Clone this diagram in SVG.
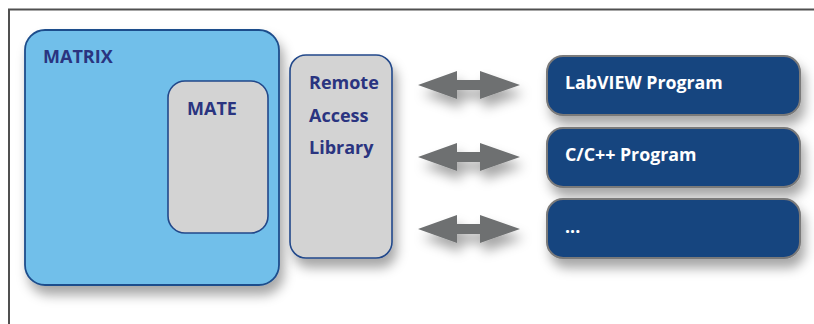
<svg xmlns="http://www.w3.org/2000/svg" width="814" height="324" viewBox="0 0 814 324">
<style>
.lbl{font-family:"Open Sans","Noto Sans","Liberation Sans",sans-serif;font-weight:bold;font-size:18px;fill:#2A3480}
.wl{font-family:"Open Sans","Noto Sans","Liberation Sans",sans-serif;font-weight:bold;font-size:17.8px;fill:#FFFFFF}
.grey{fill:#D3D3D3;stroke:#22488A;stroke-width:1.6}
.prog{fill:#19447F;stroke:#7A7A7A;stroke-width:2}
.arr{fill:#6E7071}
</style>
<defs>
<filter id="sh" x="-20%" y="-20%" width="150%" height="160%">
<feDropShadow dx="4" dy="9" stdDeviation="6" flood-color="#000" flood-opacity="0.35"/>
</filter>
</defs>
<rect x="0" y="0" width="814" height="324" fill="#FFFFFF"/>
<path d="M9,324 V9.5 H814" fill="none" stroke="#505050" stroke-width="2"/>
<g id="matrix">
<rect x="25" y="30" width="254" height="255" rx="20" fill="#71BFEA" stroke="#1F4E8C" stroke-width="1.8" filter="url(#sh)"/>
<text class="lbl" x="43" y="63">MATRIX</text>
</g>
<g id="mate">
<rect x="168" y="81" width="100" height="152" rx="17" class="grey"/>
<text class="lbl" x="187" y="115">MATE</text>
</g>
<g id="ral">
<rect x="290" y="55" width="102" height="203" rx="16" class="grey" filter="url(#sh)"/>
<text class="lbl" x="309" y="89">Remote</text>
<text class="lbl" x="309" y="122">Access</text>
<text class="lbl" x="309" y="154">Library</text>
</g>
<g id="connectors" class="arr" filter="url(#sh)">
<path d="M418,85 L457,71 V80 H480 V71 L520,85 L480,99 V90 H457 V99 Z"/>
<path d="M418,157 L457,143 V152 H480 V143 L520,157 L480,171 V162 H457 V171 Z"/>
<path d="M418,229 L457,215 V224 H480 V215 L520,229 L480,243 V234 H457 V243 Z"/>
</g>
<g id="labview">
<rect x="547" y="56" width="253" height="59" rx="16" class="prog" filter="url(#sh)"/>
<text class="wl" x="565" y="89">LabVIEW Program</text>
</g>
<g id="cpp">
<rect x="547" y="128" width="253" height="59" rx="16" class="prog" filter="url(#sh)"/>
<text class="wl" x="565" y="161">C/C++ Program</text>
</g>
<g id="more">
<rect x="547" y="199" width="253" height="59" rx="16" class="prog" filter="url(#sh)"/>
<text class="wl" x="565" y="233">...</text>
</g>
</svg>
